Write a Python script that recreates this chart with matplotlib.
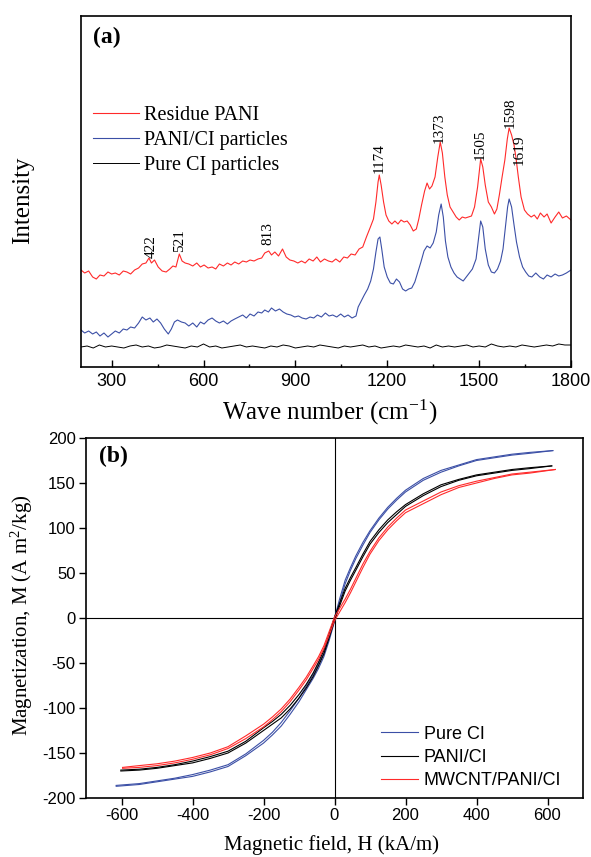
import numpy as np
import matplotlib
matplotlib.use('Agg')
import matplotlib.pyplot as plt

# ---- (a) Raman spectra, intensity in arbitrary units ----
red_wn = [200, 212, 225, 238, 250, 262, 275, 288, 300, 312, 325, 338, 350, 362, 375, 388, 400, 412,
          422, 430, 440, 452, 465, 478, 490, 500, 510, 521, 530, 540, 552, 565, 578, 590, 602, 615,
          628, 640, 652, 665, 678, 690, 702, 715, 728, 740, 752, 765, 778, 790, 800, 813, 822, 833,
          845, 858, 870, 882, 895, 908, 920, 932, 945, 958, 970, 982, 995, 1008, 1020, 1032, 1045,
          1058, 1070, 1082, 1095, 1108, 1120, 1132, 1145, 1155, 1163, 1170, 1174, 1180, 1188, 1196,
          1205, 1215, 1225, 1235, 1245, 1255, 1265, 1275, 1285, 1295, 1303, 1312, 1322, 1330, 1338,
          1346, 1356, 1365, 1373, 1380, 1388, 1396, 1405, 1415, 1425, 1435, 1445, 1455, 1465, 1475,
          1485, 1495, 1505, 1512, 1520, 1530, 1540, 1550, 1558, 1566, 1575, 1584, 1592, 1598, 1606,
          1614, 1620, 1628, 1637, 1648, 1658, 1670, 1680, 1690, 1700, 1712, 1722, 1735, 1748, 1760,
          1772, 1785, 1800]
red_int = [97, 94, 96, 90, 88, 92, 91, 95, 93, 94, 92, 96, 95, 93, 97, 99, 103, 104,
           109, 104, 107, 100, 96, 95, 98, 101, 100, 113, 106, 104, 103, 101, 104, 100, 102, 99,
           100, 98, 103, 101, 104, 102, 105, 103, 106, 105, 107, 106, 108, 109, 114, 116, 112, 115,
           111, 118, 110, 107, 106, 104, 106, 104, 108, 106, 110, 105, 108, 106, 105, 108, 105,
           110, 109, 113, 112, 118, 120, 130, 140, 148, 165, 185, 192, 182, 165, 152,
           146, 143, 146, 143, 147, 145, 146, 142, 136, 138, 148, 162, 176, 184, 178,
           181, 190, 210, 225, 214, 190, 172, 160, 155, 150, 147, 150, 149, 150, 151,
           160, 180, 208, 200, 182, 165, 160, 153, 158, 172, 190, 207, 228, 239, 232,
           222, 210, 190, 170, 157, 153, 150, 152, 148, 154, 150, 153, 144, 150, 155,
           149, 151, 147]

blue_wn = [200, 212, 225, 238, 250, 262, 275, 288, 300, 312, 325, 338, 350, 362, 375, 388, 400, 412,
           425, 436, 448, 460, 472, 485, 495, 505, 515, 528, 540, 552, 565, 578, 590, 602, 615, 628,
           640, 652, 665, 678, 690, 702, 715, 728, 740, 752, 765, 778, 790, 800, 812, 822, 835, 848,
           860, 872, 885, 898, 910, 922, 935, 948, 960, 972, 985, 998, 1010, 1022, 1035, 1048, 1060,
           1072, 1085, 1098, 1105, 1115, 1125, 1136, 1146, 1155, 1163, 1170, 1176, 1182, 1190, 1200,
           1210, 1220, 1230, 1240, 1250, 1260, 1270, 1280, 1290, 1300, 1310, 1320, 1330, 1340, 1350,
           1360, 1368, 1376, 1383, 1390, 1398, 1408, 1418, 1428, 1438, 1448, 1458, 1468, 1478, 1490,
           1498, 1505, 1512, 1520, 1530, 1540, 1550, 1560, 1570, 1578, 1586, 1593, 1598, 1606, 1614,
           1622, 1632, 1642, 1652, 1662, 1672, 1685, 1698, 1710, 1722, 1735, 1748, 1760, 1772, 1785,
           1800]
blue_int = [37, 34, 36, 33, 35, 31, 34, 30, 33, 36, 34, 38, 37, 40, 39, 44, 50, 47,
            49, 45, 48, 44, 38, 33, 38, 45, 47, 45, 44, 41, 44, 40, 45, 43, 47, 49,
            46, 44, 46, 43, 46, 48, 50, 52, 49, 53, 51, 55, 54, 57, 55, 59, 56, 58,
            55, 53, 52, 50, 51, 49, 48, 50, 49, 52, 50, 54, 51, 52, 50, 53, 50,
            52, 49, 51, 60, 66, 72, 78, 86, 98, 115, 128, 130, 118, 100, 90,
            84, 83, 88, 85, 78, 76, 78, 79, 85, 95, 105, 116, 121, 119, 124,
            135, 152, 163, 150, 126, 110, 100, 94, 90, 88, 86, 90, 94, 98, 108,
            128, 146, 140, 118, 102, 95, 94, 98, 106, 118, 140, 160, 168, 160, 142,
            125, 110, 100, 95, 91, 90, 94, 90, 88, 92, 90, 93, 91, 92, 94,
            97]

black_int = [20, 21, 19, 22, 20, 21, 20, 19, 21, 22, 20, 21, 19, 20, 22, 21, 20, 19, 21, 20,
             23, 20, 21, 19, 20, 21, 22, 20, 21, 20, 19, 21, 20, 22, 21, 19, 20, 21, 20, 22,
             21, 20, 19, 21, 20, 21, 22, 20, 21, 19, 20, 21, 20, 22, 21, 20, 21, 19, 22, 20,
             21, 20, 21, 22, 20, 21, 20, 23, 21, 20, 21, 20, 22, 21, 20, 21, 22, 21, 23, 22, 22]
black_wn = np.linspace(200, 1800, len(black_int))

peak_labels = ['422', '521', '813', '1174', '1373', '1505', '1598', '1619']
peak_wn = [430, 523, 810, 1175, 1370, 1505, 1601, 1631]
peak_h = [109, 115, 122, 194, 224, 207, 239, 202]

# ---- (b) hysteresis loops, H in kA/m, M in A m2/kg ----
h_core = [-550, -500, -450, -400, -350, -300, -250, -200, -175, -150, -125, -100, -80, -60, -45, -30, -15,
          0, 15, 30, 45, 60, 80, 100, 125, 150, 175, 200, 250, 300, 350, 400, 450, 500, 550]
h_blue = [-615] + h_core + [615]
m_blue_dn = [-186, -184, -181, -178, -174, -169, -163, -151, -136, -127, -116, -103, -89, -76, -63, -51, -39, -21,
             0, 22, 42, 56, 69, 84, 97, 111, 123, 133, 142, 155, 164, 170, 176, 179, 182, 184, 186]
m_blue_up = [-187, -185, -182, -179, -176, -171, -165, -153, -139, -130, -120, -107, -93, -80, -67, -56, -43, -25,
             -4, 18, 38, 53, 66, 81, 95, 109, 121, 131, 140, 153, 162, 169, 175, 178, 181, 183, 186]

h_black = [-602] + h_core + [612]
m_black_dn = [-169, -168, -166, -163, -159, -154, -148, -137, -122, -115, -107, -97, -85, -74, -61, -49, -36, -18,
              1, 17, 33, 45, 56, 71, 85, 98, 109, 118, 126, 138, 148, 154, 159, 162, 165, 167, 169]
m_black_up = [-170, -169, -167, -164, -161, -156, -150, -139, -125, -118, -111, -101, -89, -78, -65, -53, -40, -22,
              -3, 14, 30, 42, 53, 68, 82, 95, 106, 115, 124, 136, 146, 153, 158, 161, 164, 166, 169]

h_red = [-597] + h_core + [622]
m_red_dn = [-166, -164, -162, -159, -155, -150, -143, -131, -118, -110, -101, -90, -77, -66, -53, -43, -31, -15,
            1, 11, 21, 32, 44, 60, 74, 89, 101, 111, 120, 130, 140, 147, 152, 156, 160, 162, 165]
m_red_up = [-167, -166, -164, -161, -157, -152, -145, -134, -121, -113, -104, -93, -80, -69, -56, -46, -34, -19,
            -3, 7, 17, 28, 40, 56, 71, 86, 98, 108, 117, 127, 137, 145, 150, 155, 159, 161, 165]

plt.rcParams['font.family'] = ['Liberation Serif', 'DejaVu Serif']
plt.rcParams['mathtext.fontset'] = 'stix'
plt.rcParams['axes.unicode_minus'] = False

fig = plt.figure(figsize=(5.91, 8.57), dpi=100)

# ---------------- panel (a) ----------------
ax1 = fig.add_axes([81 / 591, 1 - 367 / 857, 490 / 591, 351 / 857])
ax1.plot(red_wn, red_int, color='#ff2a2a', lw=0.8, label='Residue PANI')
ax1.plot(blue_wn, blue_int, color='#3b4fa6', lw=0.8, label='PANI/CI particles')
ax1.plot(black_wn, black_int, color='black', lw=0.7, label='Pure CI particles')
ax1.set_xlim(200, 1800)
ax1.set_ylim(0, 351)
ax1.set_xticks([300, 600, 900, 1200, 1500, 1800])
ax1.set_xticks([450, 750, 1050, 1350, 1650], minor=True)
ax1.set_yticks([])
ax1.tick_params(axis='x', which='major', direction='in', length=5, width=1, pad=4)
ax1.tick_params(axis='x', which='minor', direction='in', length=2.5, width=1)
for lab in ax1.get_xticklabels():
    lab.set_fontfamily('Liberation Sans')
    lab.set_fontsize(13)
for sp in ax1.spines.values():
    sp.set_linewidth(1.2)

for txt, x, y in zip(peak_labels, peak_wn, peak_h):
    ax1.text(x, y, txt, rotation=90, ha='center', va='bottom', fontsize=11)

ax1.text(0.024, 0.94, '(a)', transform=ax1.transAxes, fontsize=17, fontweight='bold', va='center')
ax1.legend(loc='center left', bbox_to_anchor=(0.024, 0.646), frameon=False, fontsize=14.5,
           handlelength=2.3, handletextpad=0.25, labelspacing=0.3, borderpad=0, borderaxespad=0)

fig.text(23 / 591, 1 - 200 / 857, 'Intensity', rotation=90, ha='center', va='center', fontsize=18)
fig.text(330 / 591, 1 - 412 / 857, 'Wave number (cm$^{\\mathregular{-1}}$)', ha='center', va='center', fontsize=18)

# ---------------- panel (b) ----------------
ax2 = fig.add_axes([86 / 591, 1 - 798 / 857, 497 / 591, 360 / 857])
ax2.axhline(0, color='black', lw=0.8)
ax2.axvline(0, color='black', lw=0.8)
ax2.plot(h_blue, m_blue_dn, color='#3b4fa6', lw=0.8, label='Pure CI')
ax2.plot(h_blue, m_blue_up, color='#3b4fa6', lw=0.8)
ax2.plot(h_black, m_black_dn, color='black', lw=0.8, label='PANI/CI')
ax2.plot(h_black, m_black_up, color='black', lw=0.8)
ax2.plot(h_red, m_red_dn, color='#ff2a2a', lw=0.8, label='MWCNT/PANI/CI')
ax2.plot(h_red, m_red_up, color='#ff2a2a', lw=0.8)
ax2.set_xlim(-700, 700)
ax2.set_ylim(-200, 200)
ax2.set_xticks([-600, -400, -200, 0, 200, 400, 600])
ax2.set_yticks([-200, -150, -100, -50, 0, 50, 100, 150, 200])
ax2.tick_params(direction='out', length=5, width=1, pad=2.5, labelsize=12)
for lab in ax2.get_xticklabels() + ax2.get_yticklabels():
    lab.set_fontfamily('Liberation Sans')
for sp in ax2.spines.values():
    sp.set_linewidth(1.2)

ax2.text(0.026, 0.95, '(b)', transform=ax2.transAxes, fontsize=17, fontweight='bold', va='center')
ax2.legend(loc='center left', bbox_to_anchor=(0.594, 0.113), frameon=False,
           prop={'family': 'Liberation Sans', 'size': 13},
           handlelength=2.05, handletextpad=0.3, labelspacing=0.35, borderpad=0, borderaxespad=0)

fig.text(22 / 591, 1 - 615 / 857, 'Magnetization, M (A m$^{\\mathregular{2}}$/kg)', rotation=90,
         ha='center', va='center', fontsize=15)
fig.text(331 / 591, 1 - 845 / 857, 'Magnetic field, H (kA/m)', ha='center', va='center', fontsize=15)

fig.savefig('out.png', dpi=100)
